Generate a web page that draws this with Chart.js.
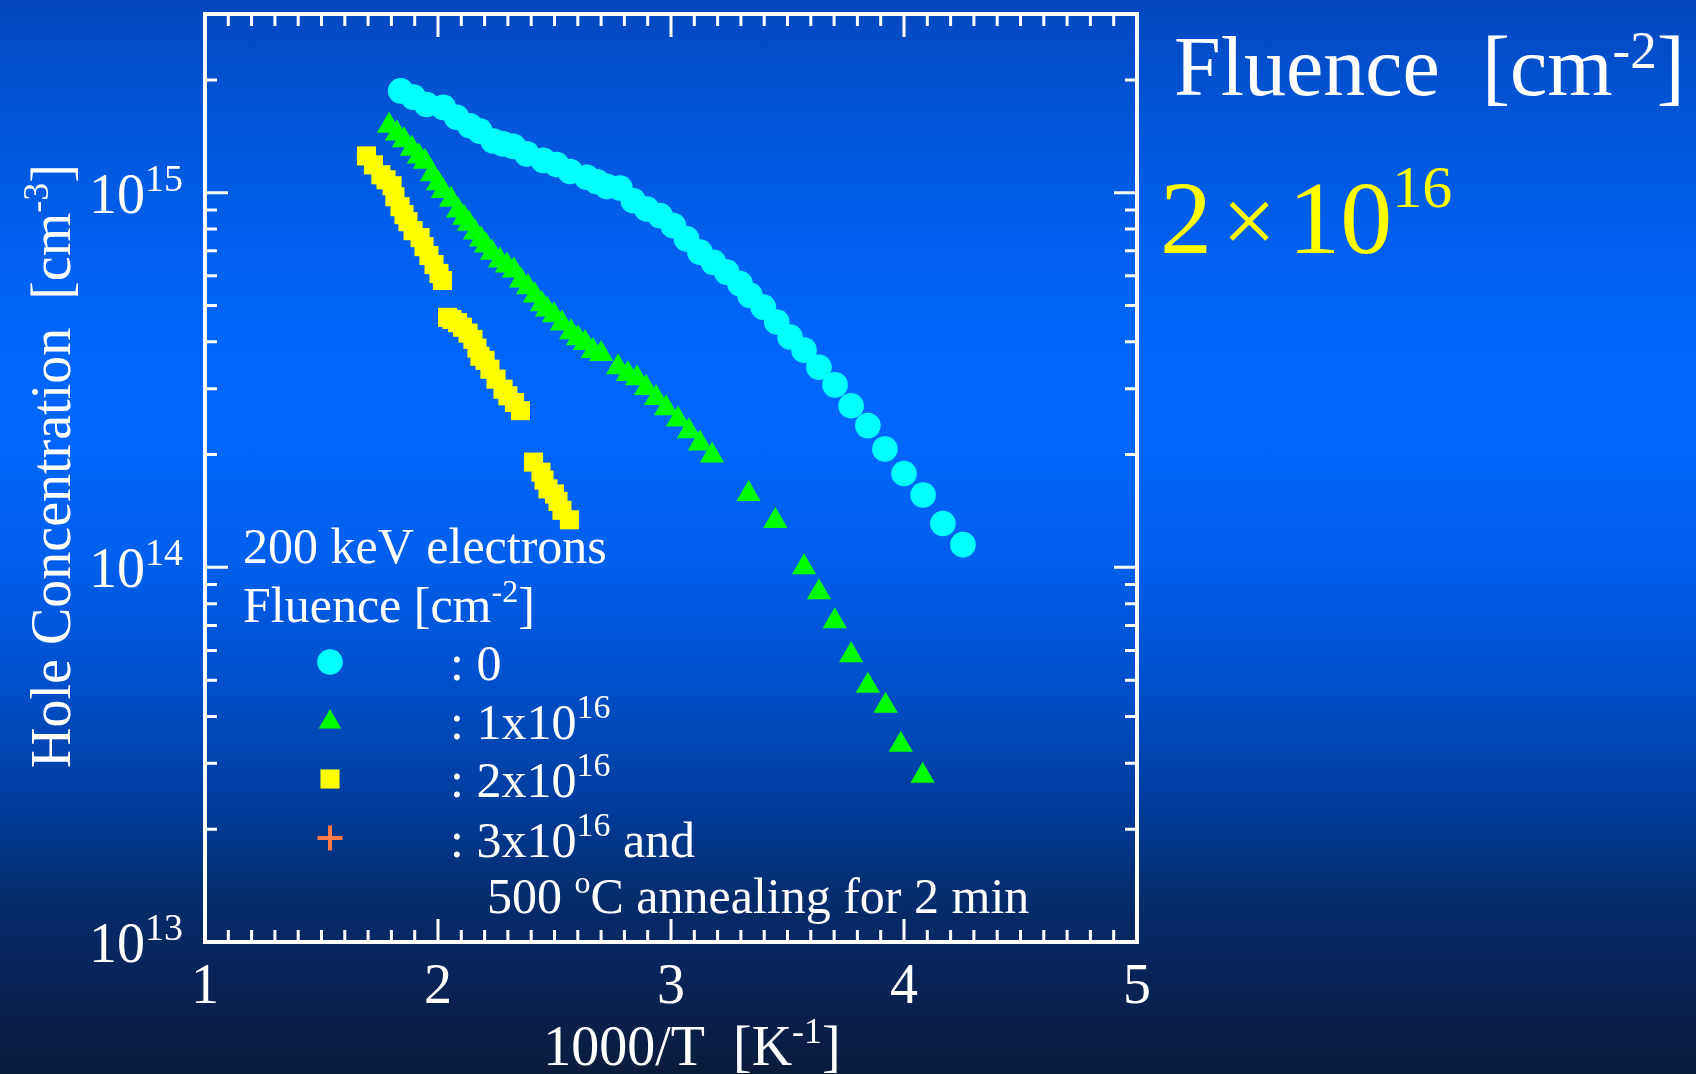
<!DOCTYPE html>
<html>
<head>
<meta charset="utf-8">
<script src="https://cdn.jsdelivr.net/npm/chart.js@4.4.0/dist/chart.umd.min.js"></script>
<style>
  html, body { margin: 0; padding: 0; width: 1696px; height: 1074px; overflow: hidden; }
  body {
    background: linear-gradient(to bottom,
      #0447be 0px, #0256d8 120px, #0064f8 300px, #0066ff 430px,
      #005fec 560px, #0050cc 680px, #003d9e 800px, #062c6c 900px, #0b1b3d 1074px);
  }
  canvas { display: block; }
</style>
</head>
<body>
<canvas id="chart" width="1696" height="1074"></canvas>
<script>
// Hole concentration vs 1000/T for several electron fluences
const fluence0X = [1.840, 1.894, 1.951, 2.023, 2.080, 2.137, 2.180, 2.237, 2.279, 2.323,
                   2.381, 2.452, 2.509, 2.567, 2.638, 2.682, 2.724, 2.781, 2.838, 2.896,
                   2.953, 3.010, 3.067, 3.124, 3.182, 3.239, 3.296, 3.339, 3.396, 3.454,
                   3.511, 3.571, 3.635, 3.704, 3.773, 3.845, 3.918, 4.000, 4.082, 4.167, 4.253];
const fluence0P = [1.87e15, 1.80e15, 1.72e15, 1.69e15, 1.59e15, 1.51e15, 1.46e15, 1.375e15, 1.35e15, 1.33e15,
                   1.27e15, 1.22e15, 1.19e15, 1.14e15, 1.10e15, 1.07e15, 1.04e15, 1.03e15, 9.52e14, 9.05e14,
                   8.69e14, 8.17e14, 7.53e14, 6.94e14, 6.52e14, 6.14e14, 5.72e14, 5.32e14, 4.95e14, 4.52e14,
                   4.12e14, 3.80e14, 3.42e14, 3.07e14, 2.70e14, 2.39e14, 2.07e14, 1.78e14, 1.56e14, 1.31e14, 1.15e14];

const fluence1X = [1.790, 1.824, 1.854, 1.888, 1.918, 1.944, 1.974, 2.000, 2.021, 2.056,
                   2.086, 2.112, 2.133, 2.159, 2.185, 2.206, 2.232, 2.266, 2.296, 2.326,
                   2.356, 2.386, 2.416, 2.446, 2.468, 2.498, 2.532, 2.571, 2.601, 2.631,
                   2.665, 2.700, 2.773, 2.815, 2.854, 2.893, 2.936, 2.979, 3.030, 3.077,
                   3.124, 3.176, 3.333, 3.448, 3.571, 3.635, 3.703, 3.773, 3.845, 3.921,
                   3.986, 4.080];
const fluence1P = [1.51e15, 1.44e15, 1.38e15, 1.31e15, 1.25e15, 1.21e15, 1.12e15, 1.06e15, 1.01e15, 9.58e14,
                   8.96e14, 8.58e14, 8.27e14, 7.83e14, 7.50e14, 7.23e14, 6.92e14, 6.59e14, 6.39e14, 6.20e14,
                   5.83e14, 5.59e14, 5.32e14, 5.04e14, 4.88e14, 4.71e14, 4.48e14, 4.24e14, 4.09e14, 3.97e14,
                   3.78e14, 3.71e14, 3.42e14, 3.28e14, 3.20e14, 3.01e14, 2.83e14, 2.66e14, 2.48e14, 2.31e14,
                   2.14e14, 1.99e14, 1.57e14, 1.33e14, 1.00e14, 8.58e13, 7.18e13, 5.83e13, 4.83e13, 4.27e13,
                   3.36e13, 2.78e13];

const fluence2X = [1.693, 1.723, 1.755, 1.777, 1.803, 1.815, 1.837, 1.854, 1.871, 1.893,
                   1.923, 1.940, 1.961, 1.983, 2.004, 2.019,
                   2.041, 2.060, 2.084, 2.105, 2.129, 2.150, 2.167, 2.180, 2.202, 2.223,
                   2.249, 2.279, 2.300, 2.328, 2.354,
                   2.410, 2.442, 2.455, 2.472, 2.500, 2.515, 2.532, 2.564];
const fluence2P = [1.254e15, 1.187e15, 1.117e15, 1.083e15, 1.044e15, 9.76e14, 9.18e14, 8.74e14, 8.37e14, 7.92e14,
                   7.59e14, 7.18e14, 6.80e14, 6.43e14, 6.09e14, 5.83e14,
                   4.65e14, 4.59e14, 4.50e14, 4.375e14, 4.22e14, 4.06e14, 3.85e14, 3.66e14, 3.57e14, 3.38e14,
                   3.18e14, 2.99e14, 2.87e14, 2.755e14, 2.62e14,
                   1.91e14, 1.795e14, 1.71e14, 1.62e14, 1.57e14, 1.50e14, 1.42e14, 1.34e14];

// 3x10^16 + 500 °C anneal: legend entry only
const fluence3X = [];
const fluence3P = [];

const xTickLabels = ['1', '2', '3', '4', '5'];
const yTickExponents = ['13', '14', '15'];

const FONT = '"Liberation Serif", "Times New Roman", serif';

function toPoints(xs, ys) {
  return xs.map((v, i) => ({ x: v, y: ys[i] }));
}

// draw a line of text made of runs (normal / superscript); a run may carry its own gap before it
function richText(ctx, x, y, runs, align) {
  let total = 0;
  for (const r of runs) {
    ctx.font = r.size + 'px ' + FONT;
    r.w = ctx.measureText(r.text).width;
    total += r.w + (r.gap || 0);
  }
  let cx = align === 'center' ? x - total / 2 : (align === 'right' ? x - total : x);
  ctx.textAlign = 'left';
  ctx.textBaseline = 'alphabetic';
  for (const r of runs) {
    cx += r.gap || 0;
    ctx.font = r.size + 'px ' + FONT;
    ctx.fillText(r.text, cx, y - (r.rise || 0));
    cx += r.w;
  }
}

const frameAndTicks = {
  id: 'frameAndTicks',
  beforeDatasetsDraw(chart) {
    const { ctx, chartArea: a, scales: { x, y } } = chart;
    ctx.save();
    ctx.strokeStyle = '#ffffff';
    ctx.lineCap = 'butt';
    ctx.lineWidth = 3;
    ctx.beginPath();
    // x ticks every 0.1, longer at integers
    for (let i = 10; i <= 50; i++) {
      const px = x.getPixelForValue(i / 10);
      const len = i % 10 === 0 ? 23 : 12;
      ctx.moveTo(px, a.bottom); ctx.lineTo(px, a.bottom - len);
      ctx.moveTo(px, a.top); ctx.lineTo(px, a.top + len);
    }
    // y ticks at 1..9 x decade
    for (let d = 13; d <= 15; d++) {
      for (let m = 1; m <= 9; m++) {
        const v = m * Math.pow(10, d);
        if (v > y.max * 1.0001) continue;
        const py = y.getPixelForValue(v);
        const len = m === 1 ? 23 : 12;
        ctx.moveTo(a.left, py); ctx.lineTo(a.left + len, py);
        ctx.moveTo(a.right, py); ctx.lineTo(a.right - len, py);
      }
    }
    ctx.stroke();
    ctx.lineWidth = 4;
    ctx.strokeRect(a.left, a.top, a.right - a.left, a.bottom - a.top);

    // tick labels
    ctx.fillStyle = '#ffffff';
    xTickLabels.forEach(t => {
      richText(ctx, x.getPixelForValue(Number(t)), 1003, [{ text: t, size: 56 }], 'center');
    });
    yTickExponents.forEach(e => {
      const py = y.getPixelForValue(Math.pow(10, Number(e)));
      richText(ctx, 89, py + 20, [{ text: '10', size: 56 }, { text: e, size: 38, rise: 22 }], 'left');
    });

    // axis titles
    richText(ctx, 692, 1065, [
      { text: '1000/T  [K', size: 56 }, { text: '-1', size: 36, rise: 22 }, { text: ']', size: 56 }
    ], 'center');
    ctx.save();
    ctx.translate(70, 466);
    ctx.rotate(-Math.PI / 2);
    richText(ctx, 0, 0, [
      { text: 'Hole Concentration  [cm', size: 56 }, { text: '-3', size: 36, rise: 22 }, { text: ']', size: 56 }
    ], 'center');
    ctx.restore();

    // heading at right
    richText(ctx, 1174, 95, [
      { text: 'Fluence  [cm', size: 84 }, { text: '-2', size: 53, rise: 27 }, { text: ']', size: 84 }
    ], 'left');
    ctx.fillStyle = '#ffff00';
    richText(ctx, 1160, 253, [
      { text: '2', size: 104 },
      { text: '\u00d7', size: 96, gap: 10 },
      { text: '10', size: 104, gap: 12 },
      { text: '16', size: 60, rise: 46 }
    ], 'left');
    ctx.restore();
  },
  afterDatasetsDraw(chart) {
    const { ctx } = chart;
    const ds = chart.data.datasets;
    ctx.save();
    ctx.fillStyle = '#ffffff';
    richText(ctx, 243, 563, [{ text: '200 keV electrons', size: 50 }], 'left');
    richText(ctx, 243, 622, [
      { text: 'Fluence [cm', size: 50 }, { text: '-2', size: 32, rise: 20 }, { text: ']', size: 50 }
    ], 'left');
    const rows = [
      { y: 680, mark: 662, runs: [{ text: ': 0', size: 50 }] },
      { y: 739, mark: 722, runs: [{ text: ': 1x10', size: 50 }, { text: '16', size: 34, rise: 21 }] },
      { y: 797, mark: 779, runs: [{ text: ': 2x10', size: 50 }, { text: '16', size: 34, rise: 21 }] },
      { y: 857, mark: 838, runs: [{ text: ': 3x10', size: 50 }, { text: '16', size: 34, rise: 21 }, { text: ' and', size: 50 }] }
    ];
    rows.forEach((row, i) => {
      const d = ds[i];
      ctx.fillStyle = d.backgroundColor;
      ctx.strokeStyle = d.borderColor;
      ctx.lineWidth = d.borderWidth;
      Chart.helpers.drawPoint(ctx, {
        pointStyle: d.pointStyle, radius: d.legendRadius || d.pointRadius, rotation: 0, borderWidth: d.borderWidth
      }, 330, row.mark);
      ctx.fillStyle = '#ffffff';
      richText(ctx, 450, row.y, row.runs, 'left');
    });
    richText(ctx, 487, 913, [
      { text: '500 ', size: 50 }, { text: 'o', size: 32, rise: 20 }, { text: 'C annealing for 2 min', size: 50 }
    ], 'left');
    ctx.restore();
  }
};

new Chart(document.getElementById('chart'), {
  type: 'scatter',
  data: {
    datasets: [
      { label: '0', data: toPoints(fluence0X, fluence0P), pointStyle: 'circle', pointRadius: 12.8,
        backgroundColor: '#00ffff', borderColor: '#00ffff', borderWidth: 0 },
      { label: '1x10^16', data: toPoints(fluence1X, fluence1P), pointStyle: 'triangle', pointRadius: 14,
        legendRadius: 13, backgroundColor: '#00ff00', borderColor: '#00ff00', borderWidth: 0 },
      { label: '2x10^16', data: toPoints(fluence2X, fluence2P), pointStyle: 'rect', pointRadius: 13.5,
        backgroundColor: '#ffff00', borderColor: '#ffff00', borderWidth: 0 },
      { label: '3x10^16 + anneal', data: toPoints(fluence3X, fluence3P), pointStyle: 'cross', pointRadius: 12.5,
        backgroundColor: '#ff7a45', borderColor: '#ff7a45', borderWidth: 4 }
    ]
  },
  options: {
    responsive: false,
    animation: false,
    events: [],
    layout: { padding: { left: 205, top: 11, right: 559, bottom: 132 } },
    plugins: { legend: { display: false }, tooltip: { enabled: false } },
    scales: {
      x: { type: 'linear', min: 1, max: 5, display: false },
      y: { type: 'logarithmic', min: 1e13, max: 3e15, display: false }
    },
    elements: { point: { hoverRadius: 0 } }
  },
  plugins: [frameAndTicks]
});
</script>
</body>
</html>
